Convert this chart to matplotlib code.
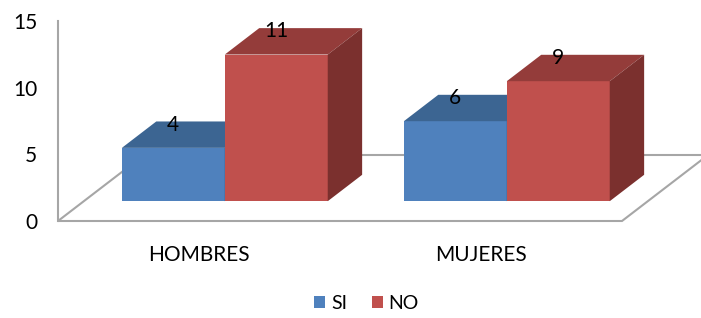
import matplotlib
matplotlib.use('Agg')
import matplotlib.pyplot as plt
from matplotlib.patches import Polygon, Patch

categories = ['HOMBRES', 'MUJERES']
series_names = ['SI', 'NO']
si_values = [4, 6]
no_values = [11, 9]
y_ticks = [0, 5, 10, 15]

series_values = [si_values, no_values]
# front, top, side colours
series_colors = [('#4F81BD', '#3C6592', '#2F5078'),
                 ('#C0504D', '#943C3A', '#7B302E')]

plt.rcParams['font.family'] = ['Lato', 'DejaVu Sans']

W, H = 701, 318
fig = plt.figure(figsize=(W / 100, H / 100), dpi=100)
ax = fig.add_axes([58 / W, (H - 221) / H, 564 / W, 200 / H])
ax.set_xlim(-0.5, 1.5)
ax.set_ylim(0, 15)

# oblique depth of the floor, in data units
DX, DY = 0.305, 4.95
gray = '#A6A6A6'

floor = Polygon([(-0.5, 0), (1.5, 0), (1.5 + DX, DY), (-0.5 + DX, DY)],
                closed=True, facecolor='white', edgecolor=gray, lw=1.5,
                clip_on=False, zorder=1)
ax.add_patch(floor)

bw = 0.365
f0, fd = 0.3, 0.4
ox, oy = f0 * DX, f0 * DY
ddx, ddy = fd * DX, fd * DY

for i in range(len(categories)):
    for j, vals in enumerate(series_values):
        v = vals[i]
        front, top, side = series_colors[j]
        x0 = i - bw + j * bw + ox
        b = oy
        t = b + v
        z = 3 + j
        ax.add_patch(Polygon([(x0, b), (x0 + bw, b), (x0 + bw, t), (x0, t)],
                             closed=True, facecolor=front, edgecolor='none',
                             clip_on=False, zorder=z))
        ax.add_patch(Polygon([(x0, t), (x0 + bw, t), (x0 + bw + ddx, t + ddy),
                              (x0 + ddx, t + ddy)],
                             closed=True, facecolor=top, edgecolor='none',
                             clip_on=False, zorder=z))
        ax.add_patch(Polygon([(x0 + bw, b), (x0 + bw + ddx, b + ddy),
                              (x0 + bw + ddx, t + ddy), (x0 + bw, t)],
                             closed=True, facecolor=side, edgecolor='none',
                             clip_on=False, zorder=z))
        ax.text(x0 + bw / 2, t + 1.73, str(v), ha='center', va='center',
                fontsize=15, color='black', zorder=10, clip_on=False)

for s in ['top', 'right', 'bottom']:
    ax.spines[s].set_visible(False)
ax.spines['left'].set_color(gray)
ax.spines['left'].set_linewidth(1.5)
ax.spines['left'].set_zorder(2)
ax.set_facecolor('none')

ax.set_yticks(y_ticks)
ax.set_yticklabels([str(v) for v in y_ticks])
ax.tick_params(axis='y', length=0, pad=15, labelsize=15, labelcolor='black')
ax.set_xticks(range(len(categories)))
ax.set_xticklabels(categories)
ax.tick_params(axis='x', length=0, pad=17, labelsize=15, labelcolor='black')

handles = [Patch(facecolor=series_colors[k][0], edgecolor='none', label=series_names[k])
           for k in range(len(series_names))]
fig.legend(handles=handles, loc='center', bbox_to_anchor=(0.523, 0.045), ncol=2,
           frameon=False, fontsize=14, handlelength=0.55, handleheight=0.55,
           handletextpad=0.3, columnspacing=1.3)

fig.savefig('out.png', dpi=100)
